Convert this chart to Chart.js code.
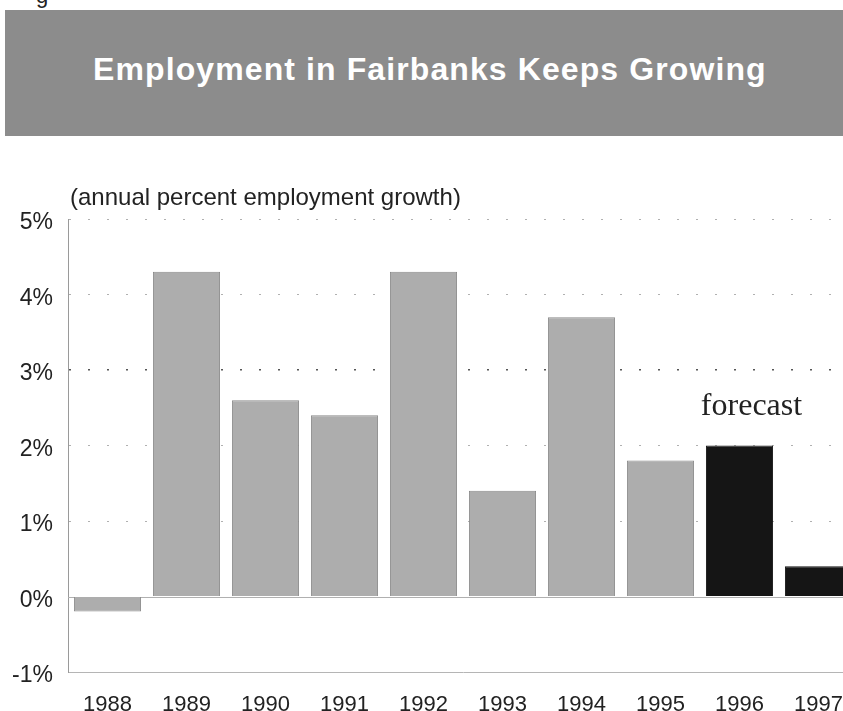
<!DOCTYPE html>
<html>
<head>
<meta charset="utf-8">
<script src="https://cdn.jsdelivr.net/npm/chart.js@4.4.1/dist/chart.umd.min.js"></script>
<style>
  html, body { margin: 0; padding: 0; background: #fff; overflow: hidden; width: 843px; height: 711px; }
  #frag { position: absolute; left: 36px; top: -17px; font: 22px "Liberation Sans", Arial, sans-serif; color: #222; }
  #banner { position: absolute; left: 5px; top: 10px; width: 838px; height: 126px; background: #8c8c8c; }
  #banner span { position: absolute; left: 88px; top: 41px; line-height: 36px; white-space: nowrap;
                 color: #fff; font: bold 32px "Liberation Sans", Arial, sans-serif; letter-spacing: 1.1px; }
  #wrap { position: absolute; left: 0; top: 0; width: 870px; height: 711px; }
</style>
</head>
<body>
<div id="frag">g</div>
<div id="banner"><span>Employment in Fairbanks Keeps Growing</span></div>
<div id="wrap"><canvas id="c" width="870" height="711"></canvas></div>
<script>
const years = ["1988","1989","1990","1991","1992","1993","1994","1995","1996","1997"];
const growth = [-0.2, 4.3, 2.6, 2.4, 4.3, 1.4, 3.7, 1.8, 2.0, 0.4];
const isForecast = [false,false,false,false,false,false,false,false,true,true];
const yTicks = [-1, 0, 1, 2, 3, 4, 5];
const axisTitle = "(annual percent employment growth)";
const forecastLabel = "forecast";

const extras = {
  id: 'extras',
  beforeDatasetsDraw(chart) {
    const {ctx, chartArea, scales} = chart;
    const y0 = Math.round(scales.y.getPixelForValue(0)) + 0.5;
    ctx.save();
    ctx.strokeStyle = '#b0b0b0';
    ctx.lineWidth = 1;
    ctx.beginPath();
    ctx.moveTo(chartArea.left, y0);
    ctx.lineTo(chartArea.right, y0);
    ctx.stroke();
    ctx.restore();
  },
  afterDraw(chart) {
    const {ctx, chartArea, scales} = chart;
    ctx.save();
    ctx.fillStyle = '#222';
    ctx.font = '24px "Liberation Sans", Arial, sans-serif';
    ctx.textBaseline = 'middle';
    ctx.textAlign = 'left';
    ctx.fillText(axisTitle, chartArea.left + 2, chartArea.top - 21);
    ctx.font = '32px "Liberation Serif", "Times New Roman", serif';
    ctx.textAlign = 'center';
    const fx = scales.x.getPixelForValue(8) + 12;
    ctx.fillText(forecastLabel, fx, scales.y.getPixelForValue(2.52));
    ctx.restore();
  }
};

new Chart(document.getElementById('c'), {
  type: 'bar',
  data: {
    labels: years,
    datasets: [{
      data: growth,
      backgroundColor: isForecast.map(f => f ? '#151515' : '#adadad'),
      borderColor: isForecast.map(f => f ? '#151515' : '#8a8a8a'),
      borderWidth: 1,
      barPercentage: 0.85,
      categoryPercentage: 1.0
    }]
  },
  options: {
    responsive: false,
    animation: false,
    devicePixelRatio: 1,
    layout: { padding: { left: 0, right: 12, top: 219, bottom: 0 } },
    plugins: { legend: { display: false }, tooltip: { enabled: false } },
    scales: {
      x: {
        grid: { display: false, drawTicks: false },
        border: { display: true, color: '#b5b5b5', width: 1 },
        ticks: { color: '#222', font: { family: '"Liberation Sans", Arial, sans-serif', size: 22 }, padding: 20, maxRotation: 0 },
        afterFit(s) { s.height = 39; }
      },
      y: {
        min: -1, max: 5,
        afterBuildTicks(s) { s.ticks = yTicks.map(v => ({ value: v })); },
        grid: {
          drawTicks: false,
          color: c => c.tick && c.tick.value === 3 ? '#555' : (c.tick && c.tick.value > 0 ? '#b0b0b0' : 'rgba(0,0,0,0)'),
          lineWidth: c => c.tick && c.tick.value === 3 ? 1.5 : 1
        },
        border: { display: true, color: '#9a9a9a', width: 1, dash: [2, 17] },
        ticks: {
          color: '#222', padding: 15, labelOffset: 4,
          font: { family: '"Liberation Sans", Arial, sans-serif', size: 23 },
          callback: v => v + '%'
        },
        afterFit(s) { s.width = 68; }
      }
    }
  },
  plugins: [extras]
});
</script>
</body>
</html>
